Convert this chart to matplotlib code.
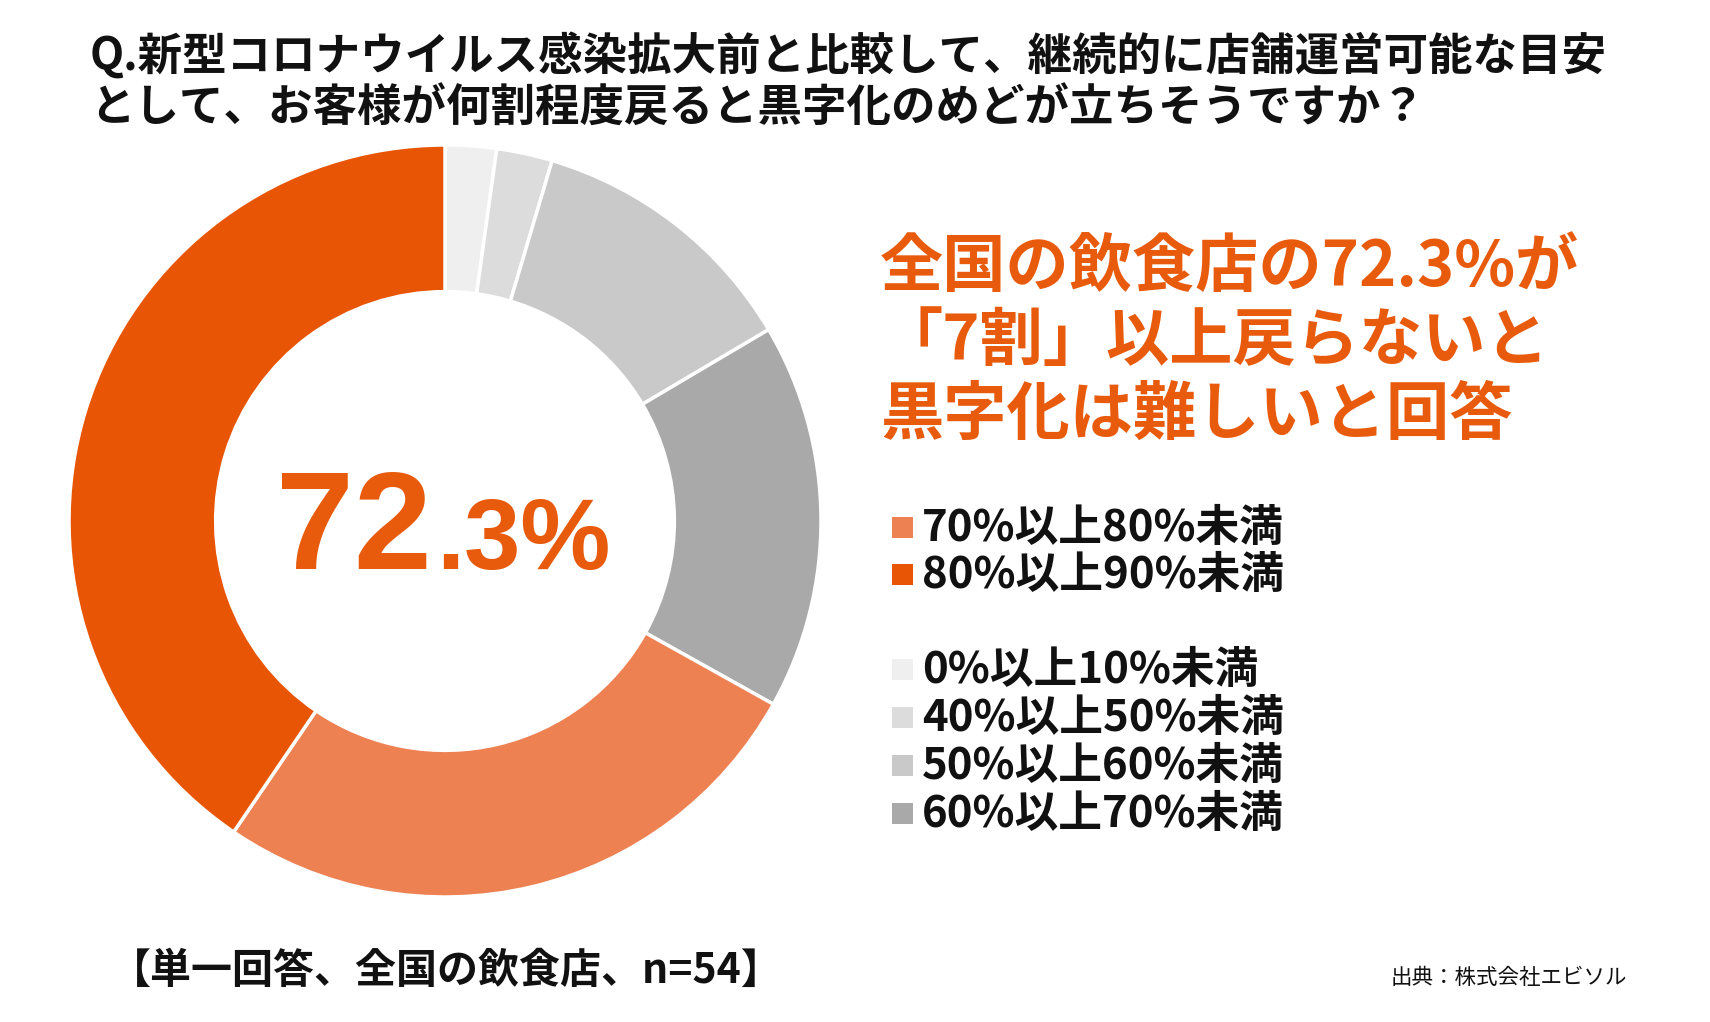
import matplotlib
matplotlib.use("Agg")
import matplotlib.pyplot as plt
from matplotlib.patches import Rectangle

plt.rcParams['font.family'] = ['Noto Sans CJK JP', 'DejaVu Sans']

# answer categories, clockwise from 12 o'clock
categories = [
    "0%以上10%未満",
    "40%以上50%未満",
    "50%以上60%未満",
    "60%以上70%未満",
    "70%以上80%未満",
    "80%以上90%未満",
]
# share of restaurants (%)
shares = [2.2, 2.4, 11.9, 16.6, 26.4, 40.5]
colors = ["#efefef", "#dcdcdc", "#c9c9c9", "#a9a9a9", "#ee8152", "#e85504"]

headline = ["全国の飲食店の72.3%が", "「7割」以上戻らないと", "黒字化は難しいと回答"]
title = [
    "Q.新型コロナウイルス感染拡大前と比較して、継続的に店舗運営可能な目安",
    "として、お客様が何割程度戻ると黒字化のめどが立ちそうですか？",
]
big_main, big_sub = "72", ".3%"
footer = "【単一回答、全国の飲食店、n=54】"
source = "出典：株式会社エビソル"

ORANGE = "#e85a0c"
W, H = 1710, 1022


def px(x, y):
    # pixel position (from top-left) -> figure fraction
    return x / W, 1 - y / H


fig = plt.figure(figsize=(W / 100, H / 100), dpi=100)

# donut
cx, cy, R = 445, 521, 376
ax = fig.add_axes([(cx - R) / W, 1 - (cy + R) / H, 2 * R / W, 2 * R / H])
wedges, _ = ax.pie(
    shares,
    colors=colors,
    startangle=90,
    counterclock=False,
    radius=1,
    wedgeprops=dict(width=0.39, edgecolor="white", linewidth=2.5),
)
ax.set_xlim(-1, 1)
ax.set_ylim(-1, 1)
ax.axis("off")

# big number in the hole
fig.text(*px(432, 569), big_main, ha="right", va="baseline", color=ORANGE,
         fontsize=101, fontweight="bold", family=["Liberation Sans", "DejaVu Sans"])
fig.text(*px(436, 569), big_sub, ha="left", va="baseline", color=ORANGE,
         fontsize=73, fontweight="bold", family=["Liberation Sans", "DejaVu Sans"])

# title
for i, line in enumerate(title):
    fig.text(*px(90, 57 + 52 * i), line, ha="left", va="center",
             fontsize=32, fontweight="bold", color="#111111")

# headline on the right
for i, line in enumerate(headline):
    fig.text(*px(880, 267 + 74 * i), line, ha="left", va="center",
             fontsize=45.5, fontweight="bold", color=ORANGE)

# legend: orange group first, then the grey group
legend_order = [4, 5, 0, 1, 2, 3]
legend_y = [528, 575, 670, 718, 766, 814]
for idx, y in zip(legend_order, legend_y):
    fig.patches.append(Rectangle(px(892, y + 10), 21 / W, 21 / H,
                                 transform=fig.transFigure,
                                 facecolor=wedges[idx].get_facecolor(),
                                 edgecolor="none"))
    fig.text(*px(922, y), categories[idx], ha="left", va="center",
             fontsize=31.5, fontweight="bold", color="#111111")

fig.text(*px(110, 971), footer, ha="left", va="center",
         fontsize=29.5, fontweight="bold", color="#111111")
fig.text(*px(1391, 978), source, ha="left", va="center",
         fontsize=15.5, color="#111111")

fig.savefig("out.png", dpi=100, facecolor="white")
